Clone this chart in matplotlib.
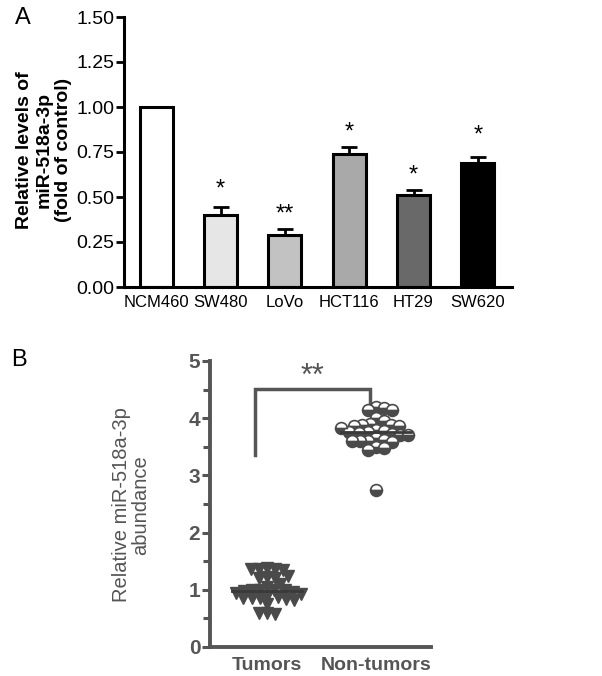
import matplotlib
matplotlib.use("Agg")
import matplotlib.pyplot as plt
import numpy as np

plt.rcParams["font.family"] = ["Liberation Sans", "DejaVu Sans"]

# panel A data
cell_lines = ["NCM460", "SW480", "LoVo", "HCT116", "HT29", "SW620"]
rel_levels = [1.00, 0.40, 0.29, 0.74, 0.51, 0.69]
rel_err = [0.0, 0.045, 0.03, 0.04, 0.03, 0.035]
bar_colors = ["#ffffff", "#e6e6e6", "#c2c2c2", "#a9a9a9", "#696969", "#000000"]
sig_marks = ["", "*", "**", "*", "*", "*"]
sig_heights = [0, 0.54, 0.40, 0.86, 0.62, 0.84]

# panel B data
groups = ["Tumors", "Non-tumors"]
tumor_vals = [1.38, 1.36, 1.36, 1.35, 1.36, 1.22, 1.2, 1.2, 1.25, 1.1,
              1.05, 1.0, 1.0, 1.0, 1.0, 0.98, 0.96, 0.95, 0.9, 0.88,
              0.85, 0.85, 0.84, 0.85, 0.82, 0.75, 0.6, 0.58, 0.6, 0.92]
normal_vals = [4.2, 4.18, 4.15, 4.14, 4.0, 3.95, 3.9, 3.88, 3.88, 3.87,
               3.86, 3.8, 3.78, 3.76, 3.76, 3.75, 3.72, 3.7, 3.7, 3.66,
               3.62, 3.6, 3.6, 3.6, 3.58, 3.5, 3.48, 3.45, 2.74, 3.82]
group_means = [0.98, 3.76]

GRAY = "#555555"


def swarm_offsets(values, y_scale, x_scale, diam):
    # simple beeswarm in pixel space, returns x offsets in data units
    placed = []
    offsets = []
    for v in values:
        y = v * y_scale
        for step in range(0, 200):
            found = None
            for cand in ([0] if step == 0 else [step, -step]):
                if all((cand - px) ** 2 + (y - py) ** 2 >= diam ** 2 for px, py in placed):
                    found = cand
                    break
            if found is not None:
                break
        placed.append((found, y))
        offsets.append(found / x_scale)
    return np.array(offsets)


fig = plt.figure(figsize=(6.02, 6.76), dpi=100)

# ---- panel A ----
axA = fig.add_axes([124 / 602, 1 - 287 / 676, (512 - 124) / 602, (287 - 17) / 676])
x = np.arange(len(cell_lines))
axA.bar(x, rel_levels, width=0.51, color=bar_colors, edgecolor="black",
        linewidth=2.2, zorder=2)
axA.errorbar(x, rel_levels, yerr=[np.zeros(len(x)), rel_err], fmt="none",
             ecolor="black", elinewidth=2, capsize=6, capthick=2, zorder=1)
for xi, m, h in zip(x, sig_marks, sig_heights):
    if m:
        axA.text(xi, h, m, ha="center", va="center", fontsize=17)
axA.set_xlim(-0.5, 5.53)
axA.set_ylim(0, 1.5)
axA.set_yticks([0, 0.25, 0.5, 0.75, 1.0, 1.25, 1.5])
axA.set_yticklabels(["0.00", "0.25", "0.50", "0.75", "1.00", "1.25", "1.50"])
axA.set_xticks(x)
axA.set_xticklabels(cell_lines)
axA.tick_params(axis="y", length=6, width=2, labelsize=14, pad=1)
axA.tick_params(axis="x", length=0, labelsize=12, pad=6)
for s in ["top", "right"]:
    axA.spines[s].set_visible(False)
for s in ["left", "bottom"]:
    axA.spines[s].set_linewidth(2.2)
fig.text(44 / 602, 1 - 150 / 676,
         "Relative levels of\nmiR-518a-3p\n(fold of control)",
         rotation=90, ha="center", va="center", fontsize=14,
         fontweight="bold", linespacing=1.2)
fig.text(23 / 602, 1 - 18 / 676, "A", ha="center", va="center", fontsize=17)

# ---- panel B ----
axB = fig.add_axes([210 / 602, 1 - 647 / 676, (431 - 210) / 602, (647 - 361) / 676])
y_scale = 57.25
x_scale = 109.0
tri_off = swarm_offsets(tumor_vals, y_scale, x_scale, 7.5)
cir_off = swarm_offsets(normal_vals, y_scale, x_scale, 8)
axB.plot(0 + tri_off, tumor_vals, linestyle="none", marker="v", markersize=8.5,
         color="#4a4a4a", zorder=3)
axB.plot(1 + cir_off, normal_vals, linestyle="none", marker="o", markersize=8.5,
         fillstyle="bottom", markerfacecolor="#4a4a4a",
         markerfacecoloralt="white", markeredgecolor="#4a4a4a",
         markeredgewidth=1.2, zorder=3)
for i, m in enumerate(group_means):
    axB.plot([i - 0.32, i + 0.32], [m, m], color="#3a3a3a", linewidth=2, zorder=4)

# significance bracket
axB.plot([-0.11, -0.11, 0.94, 0.94], [3.35, 4.51, 4.51, 4.26],
         color=GRAY, linewidth=2.5, solid_joinstyle="miter", zorder=2)
axB.text(0.42, 4.72, "**", ha="center", va="center", fontsize=22, color=GRAY)

axB.set_xlim(-0.52, 1.5)
axB.set_ylim(0, 5)
axB.set_yticks([0, 1, 2, 3, 4, 5])
axB.set_yticks(np.arange(0.5, 5, 1), minor=True)
axB.set_xticks([0, 1])
axB.set_xticklabels(groups)
axB.tick_params(axis="y", which="major", length=6, width=2.2, color=GRAY,
                labelcolor=GRAY, labelsize=15, pad=1)
axB.tick_params(axis="y", which="minor", length=5, width=2.2, color=GRAY)
axB.tick_params(axis="x", length=0, labelcolor=GRAY, labelsize=14, pad=7)
for lbl in axB.get_yticklabels() + axB.get_xticklabels():
    lbl.set_fontweight("bold")
for s in ["top", "right"]:
    axB.spines[s].set_visible(False)
for s in ["left", "bottom"]:
    axB.spines[s].set_linewidth(2.8)
    axB.spines[s].set_color(GRAY)
fig.text(131 / 602, 1 - 505 / 676, "Relative miR-518a-3p\nabundance",
         rotation=90, ha="center", va="center", fontsize=14.5, color=GRAY,
         linespacing=1.0)
fig.text(19 / 602, 1 - 360 / 676, "B", ha="center", va="center", fontsize=17)

fig.savefig("out.png", dpi=100)
